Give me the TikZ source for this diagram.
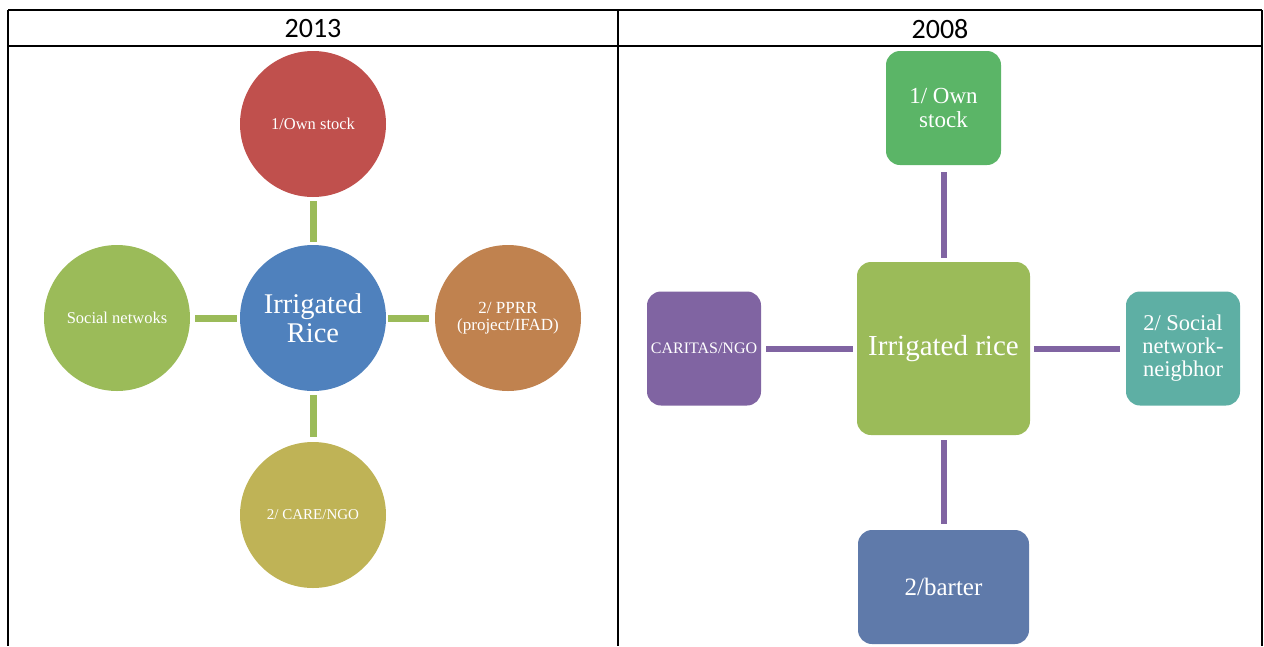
\documentclass[tikz,border=0pt]{standalone}
\usepackage{fontspec}
\setmainfont{Liberation Serif}
\newfontfamily\hdrfont{Carlito}
\definecolor{cred}{HTML}{C0504D}
\definecolor{cblue}{HTML}{4F81BD}
\definecolor{cgreen}{HTML}{9BBB59}
\definecolor{corange}{HTML}{C0824F}
\definecolor{colive}{HTML}{BFB356}
\definecolor{bgreen}{HTML}{5BB567}
\definecolor{bpurple}{HTML}{8064A2}
\definecolor{bteal}{HTML}{5EAFA4}
\definecolor{bblue}{HTML}{5F7AAA}
\tikzset{
  circ/.style={circle, minimum size=146pt, inner sep=0pt, text=white, align=center, font=\fontsize{16.5}{18}\selectfont},
  rbox/.style={rounded corners=14pt, inner sep=0pt, text=white, align=center, font=\fontsize{23}{24}\selectfont},
  lconn/.style={draw=cgreen, line width=7pt},
  rconn/.style={draw=bpurple, line width=6pt},
  grid/.style={draw=black, line width=1.6pt},
  hdr/.style={font=\hdrfont\fontsize{28}{30}\selectfont}
}
\begin{document}
\begin{tikzpicture}[x=1pt,y=-1pt]
\useasboundingbox (0,0) rectangle (1264,646);
% table
\draw[grid] (8,10) -- (1262,10);
\draw[grid] (8,46) -- (1262,46);
\draw[grid] (8,10) -- (8,646);
\draw[grid] (618,10) -- (618,646);
\draw[grid] (1262,10) -- (1262,646);
\node[hdr] (h1) at (313,29) {2013};
\node[hdr] (h2) at (940,29) {2008};
% left panel
\node[circ, fill=cred] (own) at (313,124) {1/Own stock};
\node[circ, fill=cblue, font=\fontsize{28.5}{29}\selectfont] (irr) at (313,318) {Irrigated\\Rice};
\node[circ, fill=cgreen] (soc) at (117,318) {Social netwoks};
\node[circ, fill=corange, font=\fontsize{17}{17}\selectfont] (pprr) at (508,318) {2/ PPRR\\(project/IFAD)};
\node[circ, fill=colive, font=\fontsize{15}{17}\selectfont] (care) at (313,515) {2/ CARE/NGO};
\draw[lconn] ([yshift=-4pt]own.south) -- ([yshift=3pt]irr.north);
\draw[lconn] ([yshift=-4pt]irr.south) -- ([yshift=5pt]care.north);
\draw[lconn] ([xshift=5pt]soc.east) -- ([xshift=-3pt]irr.west);
\draw[lconn] ([xshift=2pt]irr.east) -- ([xshift=-6pt]pprr.west);
% right panel
\node[rbox, fill=bgreen, minimum width=115pt, minimum height=114pt] (own2) at (943.5,108) {1/ Own\\stock};
\node[rbox, fill=cgreen, minimum width=173pt, minimum height=173pt, font=\fontsize{29}{30}\selectfont] (irr2) at (943.5,348.5) {Irrigated rice};
\node[rbox, fill=bpurple, minimum width=114pt, minimum height=114pt, font=\fontsize{16}{18}\selectfont] (car) at (704,348.5) {CARITAS/NGO};
\node[rbox, fill=bteal, minimum width=114pt, minimum height=114pt, font=\fontsize{22.5}{23}\selectfont] (soc2) at (1183,348.5) {2/ Social\\network-\\neigbhor};
\node[rbox, fill=bblue, minimum width=171pt, minimum height=114pt, font=\fontsize{25}{26}\selectfont] (bar) at (943.5,587) {2/barter};
\draw[rconn] ([yshift=-7pt]own2.south) -- ([yshift=4pt]irr2.north);
\draw[rconn] ([yshift=-5pt]irr2.south) -- ([yshift=6pt]bar.north);
\draw[rconn] ([xshift=5pt]car.east) -- ([xshift=-4pt]irr2.west);
\draw[rconn] ([xshift=4pt]irr2.east) -- ([xshift=-6pt]soc2.west);
\end{tikzpicture}
\end{document}
